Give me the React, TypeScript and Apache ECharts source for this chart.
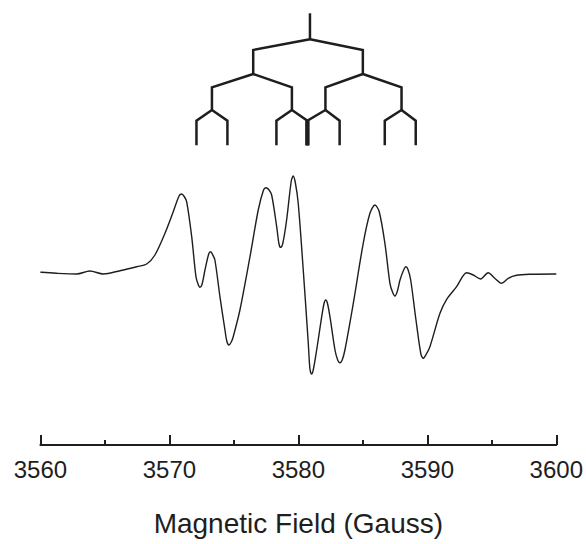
import React, { useEffect, useRef } from "react";
import * as echarts from "echarts";

// EPR spectrum (first-derivative signal, arbitrary units) vs magnetic field (Gauss)
const fieldGauss = [
  3560.0, 3560.1, 3561.26, 3562.81, 3563.84, 3564.88, 3566.17, 3567.47, 3568.24, 3568.88,
  3569.66, 3570.3, 3570.75, 3570.95, 3571.15, 3571.34, 3571.73, 3572.06, 3572.22, 3572.37,
  3572.53, 3572.76, 3573.05, 3573.2, 3573.35, 3573.53, 3573.92, 3574.31, 3574.45, 3574.62,
  3574.8, 3574.95, 3575.47, 3576.25, 3576.89, 3577.3, 3577.49, 3577.7, 3577.93, 3578.32,
  3578.5, 3578.63, 3578.8, 3579.09, 3579.45, 3579.6, 3579.77, 3579.99, 3580.38, 3580.77,
  3580.9, 3581.03, 3581.17, 3581.42, 3581.81, 3582.0, 3582.12, 3582.25, 3582.45, 3582.84,
  3583.05, 3583.22, 3583.4, 3583.61, 3584.26, 3585.03, 3585.55, 3585.94, 3586.27, 3586.71,
  3587.1, 3587.3, 3587.49, 3587.68, 3587.88, 3588.18, 3588.34, 3588.5, 3588.71, 3589.12,
  3589.5, 3589.68, 3589.88, 3590.2, 3590.98, 3591.5, 3592.27, 3593.05, 3593.56, 3594.13,
  3594.72, 3595.23, 3595.76, 3596.27, 3596.92, 3597.95, 3600.0,
];
const signal = [
  -1, -1.3, -2.3, -3, 0, -3, 0.3, 4.3, 7, 16,
  37.7, 59.3, 75, 77, 74.5, 69.3, 34.3, -5.7, -13, -16.3,
  -13.5, 1, 17, 19.3, 16.5, 11, -25.7, -59, -70, -74,
  -71, -65.7, -39, 14.3, 61, 81, 83.3, 81.5, 76, 44.3,
  27, 23.7, 28, 51, 90, 95, 88, 67.7, 1, -72.3,
  -98, -103, -98, -79, -45.7, -32, -29, -32, -45.7, -79,
  -89, -91.7, -89, -79, -32.3, 27.7, 57.7, 66, 59.3, 27.7,
  -12.3, -21, -25, -20, -9, 1.5, 4.3, 1.5, -9, -49,
  -83, -87.3, -84, -75.7, -42.3, -28.3, -15.7, -1.7, -4, -8,
  -1.7, -7.3, -12.3, -7.3, -4.3, -3.3, -3,
];

// Hyperfine splitting tree (line positions in Gauss)
const treeRoot = 3580.9;
const treeLevel1 = [3576.5, 3585.0];
const treeLevel2 = [3573.3, 3579.5, 3582.1, 3588.0];
const treeLevel3 = [3572.1, 3574.5, 3578.3, 3580.7, 3580.7, 3583.2, 3586.7, 3589.1];

const xMin = 3560;
const xMax = 3600;
const xStep = 10;

export default function App() {
  const ref = useRef<HTMLDivElement>(null);

  useEffect(() => {
    if (!ref.current) return;
    const chart = echarts.init(ref.current, undefined, { renderer: "svg" });

    // vertical placement of the tree (in signal units)
    const yRootTop = 257.7;
    const yRootBottom = 231.7;
    const levelY = [
      { shoulder: 221, bottom: 197 },
      { shoulder: 183.7, bottom: 161 },
      { shoulder: 150.3, bottom: 125.7 },
    ];
    const ink = "#1e1e1e";
    const treeLines: any[] = [];
    treeLines.push({ coords: [[treeRoot, yRootTop], [treeRoot, yRootBottom]] });
    const levels = [treeLevel1, treeLevel2, treeLevel3];
    const parentsOf = [[treeRoot], treeLevel1, treeLevel2];
    const parentBottom = [yRootBottom, levelY[0].bottom, levelY[1].bottom];
    levels.forEach((lv, li) => {
      lv.forEach((x, k) => {
        const p = parentsOf[li][Math.floor(k / 2)] ?? parentsOf[li][0];
        const pb = parentBottom[li];
        treeLines.push({
          coords: [[p, pb], [x, levelY[li].shoulder], [x, levelY[li].bottom]],
        });
        const dup = lv.filter((v) => v === x).length;
        if (dup > 1) {
          treeLines.push({
            coords: [[x, levelY[li].shoulder], [x, levelY[li].bottom]],
            lineStyle: { width: 4 },
          });
        }
      });
    });

    chart.setOption({
      animation: false,
      backgroundColor: "#ffffff",
      grid: { left: 40.4, right: 29.6, top: 0, bottom: 99, containLabel: false },
      xAxis: {
        type: "value",
        min: xMin,
        max: xMax,
        interval: xStep,
        name: "Magnetic Field (Gauss)",
        nameLocation: "middle",
        nameGap: 64,
        nameTextStyle: { fontFamily: "Liberation Sans", fontSize: 28, color: ink },
        axisLine: { show: true, onZero: false, lineStyle: { color: ink, width: 2 } },
        axisTick: { show: true, inside: true, length: 10, lineStyle: { color: ink, width: 2 } },
        minorTick: { show: true, splitNumber: 2, length: 5, lineStyle: { color: ink, width: 2 } },
        axisLabel: {
          margin: 12,
          fontFamily: "Liberation Sans",
          fontSize: 24,
          color: ink,
          formatter: (v: number) => String(v),
        },
        splitLine: { show: false },
        minorSplitLine: { show: false },
      },
      yAxis: {
        type: "value",
        min: -174,
        max: 271,
        show: false,
        splitLine: { show: false },
      },
      series: [
        {
          type: "line",
          data: fieldGauss.map((f, i) => [f, signal[i]]),
          showSymbol: false,
          smooth: 0.3,
          lineStyle: { color: ink, width: 1.4 },
          z: 2,
        },
        {
          type: "lines",
          coordinateSystem: "cartesian2d",
          polyline: true,
          data: treeLines,
          lineStyle: { color: ink, width: 2.5, opacity: 1, cap: "butt", join: "miter" },
          z: 3,
        },
      ],
    });
    return () => chart.dispose();
  }, []);

  return (
    <div
      ref={ref}
      style={{ position: "fixed", left: 0, top: 0, width: 586, height: 544 }}
    />
  );
}
